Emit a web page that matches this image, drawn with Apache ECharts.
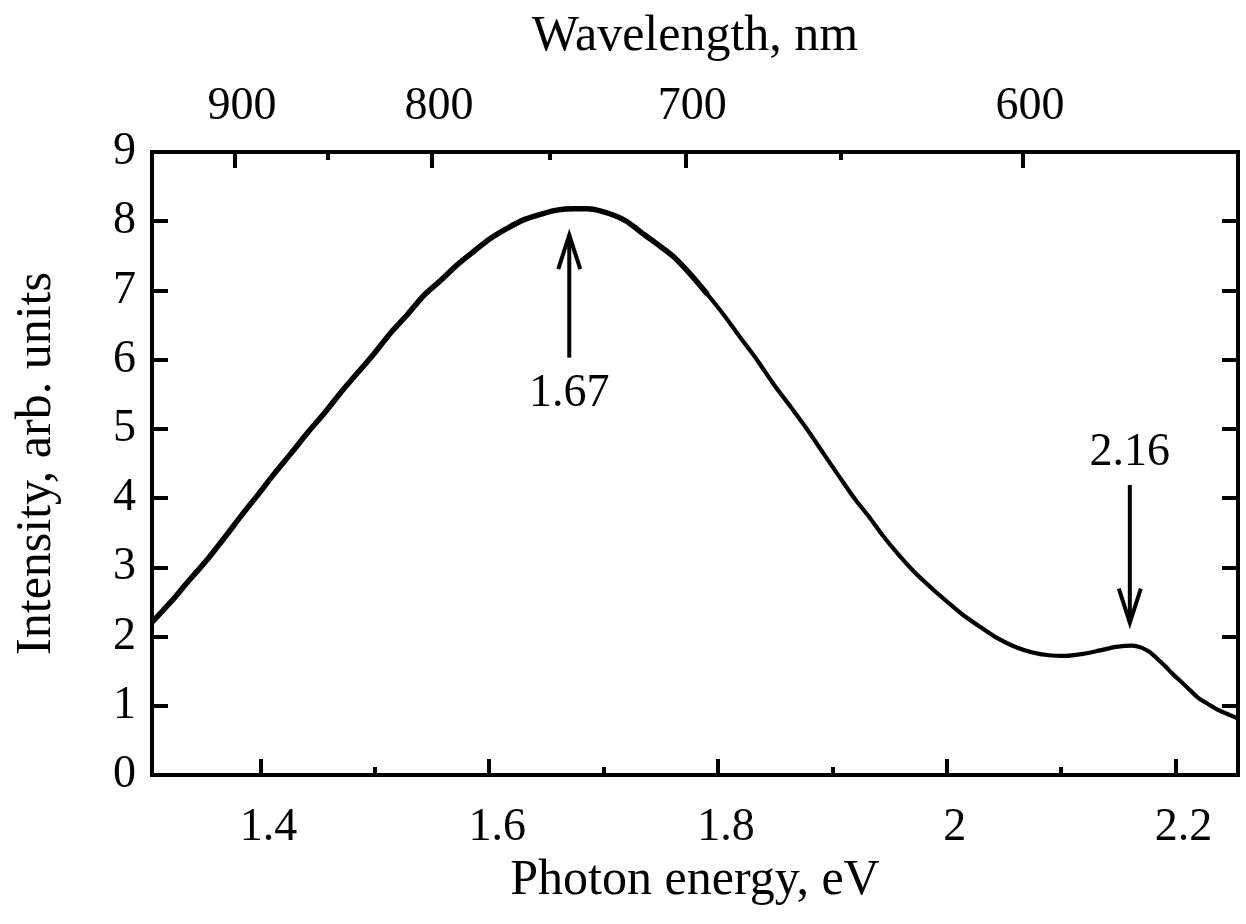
<!DOCTYPE html>
<html>
<head>
<meta charset="utf-8">
<script src="https://cdn.jsdelivr.net/npm/echarts@6/dist/echarts.min.js"></script>
<style>
html,body{margin:0;padding:0;background:#fff;}
#chart{width:1246px;height:924px;}
</style>
</head>
<body>
<div id="chart"></div>
<script>
// ---- data ----
const energy = [1.306,1.315,1.325,1.334,1.344,1.354,1.363,1.372,1.383,1.398,1.412,1.427,1.441,1.456,1.470,1.485,1.499,1.514,1.529,1.543,1.558,1.572,1.587,1.601,1.616,1.630,1.645,1.659,1.674,1.686,1.697,1.710,1.720,1.732,1.746,1.761,1.775,1.790,1.805,1.819,1.834,1.848,1.863,1.878,1.892,1.906,1.920,1.932,1.944,1.958,1.973,1.988,2.002,2.016,2.031,2.045,2.060,2.075,2.089,2.104,2.119,2.134,2.148,2.162,2.170,2.177,2.184,2.191,2.198,2.206,2.213,2.220,2.228,2.235,2.244,2.254];
const intensity = [2.22,2.38,2.56,2.74,2.93,3.12,3.31,3.50,3.74,4.05,4.35,4.65,4.94,5.23,5.52,5.81,6.08,6.39,6.66,6.93,7.15,7.37,7.57,7.75,7.90,8.02,8.10,8.16,8.18,8.18,8.15,8.08,8.00,7.85,7.68,7.49,7.25,6.96,6.65,6.33,6.00,5.66,5.33,4.99,4.65,4.31,3.98,3.73,3.46,3.18,2.91,2.68,2.48,2.29,2.12,1.97,1.85,1.77,1.73,1.72,1.75,1.80,1.85,1.87,1.84,1.78,1.68,1.57,1.45,1.33,1.22,1.11,1.03,0.96,0.89,0.82];
const noisyEnd = 1.80;   // left of this the measured trace is visibly noisier (thicker)
const energyMajor = [1.4,1.6,1.8,2.0,2.2];
const energyMinor = [1.5,1.7,1.9,2.1];
const waveMajor = [900,800,700,600];
const waveMinor = [850,750,650];
const yTicks = [0,1,2,3,4,5,6,7,8,9];
const arrowE = [1.67, 2.16];
const arrowTail = [6.03, 4.19];
const arrowTip = [7.80, 2.20];
const arrowText = ['1.67', '2.16'];
const arrowTextY = [5.51, 4.65];
const HC = 1240;
const X_MIN = HC / 950, X_MAX = HC / 550;

const FONT = 'Liberation Serif';
const FS = 46;
const FS_NAME = 50;
const toE = w => HC / w;

const chart = echarts.init(document.getElementById('chart'), null, {renderer: 'canvas'});
const lineStyleAxis = {color: '#000', width: 4, cap: 'square'};
const tickStyle = {color: '#000', width: 4};
const gridRect = {left: 152, right: 8, top: 152, bottom: 149, containLabel: false};

const pts = energy.map((e, i) => [e, intensity[i]]);
const ptsLeft = pts.filter(p => p[0] <= noisyEnd);
const ptsRight = pts.filter(p => p[0] >= ptsLeft[ptsLeft.length - 1][0]);

const option = {
  backgroundColor: '#fff',
  animation: false,
  grid: [Object.assign({}, gridRect), Object.assign({}, gridRect)],
  xAxis: [
    {
      gridIndex: 0, type: 'value', position: 'bottom', min: X_MIN, max: X_MAX,
      name: 'Photon energy, eV', nameLocation: 'middle', nameGap: 78,
      nameTextStyle: {fontFamily: FONT, fontSize: FS_NAME, color: '#000'},
      axisLine: {show: true, onZero: false, lineStyle: lineStyleAxis},
      axisTick: {show: true, inside: true, length: 16, customValues: energyMajor, lineStyle: tickStyle},
      axisLabel: {show: true, customValues: energyMajor, margin: 30, padding: [0,0,0,16],
        fontFamily: FONT, fontSize: FS, color: '#000',
        formatter: v => String(parseFloat(Number(v).toFixed(2)))},
      splitLine: {show: false}
    },
    {
      gridIndex: 0, type: 'value', position: 'top', min: X_MIN, max: X_MAX,
      name: 'Wavelength, nm', nameLocation: 'middle', nameGap: 90,
      nameTextStyle: {fontFamily: FONT, fontSize: FS_NAME, color: '#000'},
      axisLine: {show: true, onZero: false, lineStyle: lineStyleAxis},
      axisTick: {show: true, inside: true, length: 16, customValues: waveMajor.map(toE), lineStyle: tickStyle},
      axisLabel: {show: true, customValues: waveMajor.map(toE), margin: 22, padding: [0,0,0,14],
        fontFamily: FONT, fontSize: FS, color: '#000',
        formatter: v => String(Math.round(HC / v))},
      splitLine: {show: false}
    },
    {
      gridIndex: 1, type: 'value', position: 'bottom', min: X_MIN, max: X_MAX,
      axisLine: {show: false, onZero: false},
      axisTick: {show: true, inside: true, length: 8, customValues: energyMinor, lineStyle: tickStyle},
      axisLabel: {show: false}, splitLine: {show: false}
    },
    {
      gridIndex: 1, type: 'value', position: 'top', min: X_MIN, max: X_MAX,
      axisLine: {show: false, onZero: false},
      axisTick: {show: true, inside: true, length: 8, customValues: waveMinor.map(toE), lineStyle: tickStyle},
      axisLabel: {show: false}, splitLine: {show: false}
    }
  ],
  yAxis: [
    {
      gridIndex: 0, type: 'value', position: 'left', min: 0, max: 9, interval: 1,
      name: 'Intensity, arb. units', nameLocation: 'middle', nameGap: 90,
      nameTextStyle: {fontFamily: FONT, fontSize: FS_NAME, color: '#000'},
      axisLine: {show: true, onZero: false, lineStyle: lineStyleAxis},
      axisTick: {show: true, inside: true, length: 16, lineStyle: tickStyle},
      axisLabel: {show: true, margin: 16, fontFamily: FONT, fontSize: FS, color: '#000',
        customValues: yTicks},
      splitLine: {show: false}
    },
    {
      gridIndex: 0, type: 'value', position: 'right', min: 0, max: 9, interval: 1,
      axisLine: {show: true, onZero: false, lineStyle: lineStyleAxis},
      axisTick: {show: true, inside: true, length: 16, lineStyle: tickStyle},
      axisLabel: {show: false}, splitLine: {show: false}
    },
    {
      gridIndex: 1, type: 'value', position: 'left', min: 0, max: 9, interval: 1,
      show: false, axisLine: {onZero: false}
    }
  ],
  series: [
    {
      type: 'line', xAxisIndex: 0, yAxisIndex: 0,
      data: ptsLeft,
      showSymbol: false, smooth: 0.3,
      lineStyle: {color: '#000', width: 5.5, join: 'round', cap: 'round'},
      z: 3
    },
    {
      type: 'line', xAxisIndex: 0, yAxisIndex: 0,
      data: ptsRight,
      showSymbol: false, smooth: 0.3,
      lineStyle: {color: '#000', width: 4.2, join: 'round', cap: 'round'},
      z: 3
    },
    {
      type: 'custom', xAxisIndex: 0, yAxisIndex: 0,
      data: arrowE.map((e, i) => [e, arrowTail[i], arrowTip[i], arrowTextY[i], i]),
      encode: {x: 0, y: [1, 2]},
      renderItem: function (params, api) {
        const e = api.value(0);
        const tail = api.coord([e, api.value(1)]);
        const tip = api.coord([e, api.value(2)]);
        const lab = api.coord([e, api.value(3)]);
        const dir = tip[1] < tail[1] ? -1 : 1;
        const headLen = 34, headHalf = 11;
        return {
          type: 'group',
          children: [
            {type: 'line', shape: {x1: tail[0], y1: tail[1], x2: tip[0], y2: tip[1]},
             style: {stroke: '#000', lineWidth: 4}},
            {type: 'polyline', shape: {points: [[tip[0]-headHalf, tip[1]-dir*headLen], [tip[0], tip[1]], [tip[0]+headHalf, tip[1]-dir*headLen]]},
             style: {stroke: '#000', lineWidth: 4, fill: null, lineJoin: 'miter'}},
            {type: 'text', x: lab[0], y: lab[1],
             style: {text: arrowText[api.value(4)], fontFamily: FONT, fontSize: FS, fill: '#000',
                     align: 'center', verticalAlign: 'middle'}}
          ]
        };
      },
      z: 4
    }
  ]
};
chart.setOption(option);
</script>
</body>
</html>
